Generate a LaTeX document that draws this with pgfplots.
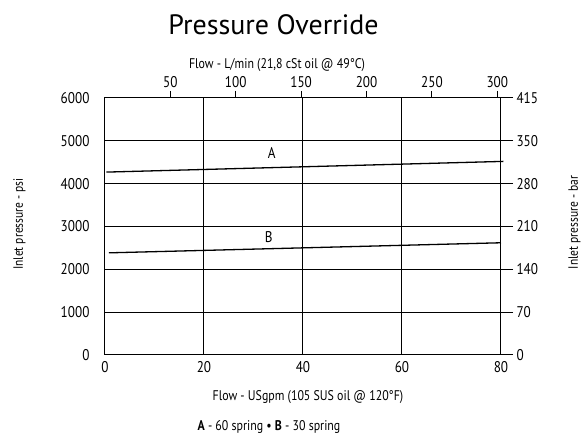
\documentclass[border=0pt]{standalone}
\usepackage{fontspec}
\setmainfont{PT Sans}[FakeStretch=0.85]
\newfontfamily\titlefont{PT Sans}
\usepackage{pgfplots}
\pgfplotsset{compat=1.18}
\begin{document}
\begin{tikzpicture}[x=1pt,y=1pt]
\useasboundingbox (-105,-80) rectangle (477,355);
% main axis (psi vs USgpm)
\begin{axis}[
  at={(0,0)}, anchor=south west,
  scale only axis, width=396pt, height=257pt,
  xmin=0, xmax=80, ymin=0, ymax=6000,
  xtick={0,20,40,60,80}, ytick={0,1000,...,6000},
  xtick pos=bottom, ytick pos=left,
  major tick length=0pt,
  grid=major, major grid style={black, line width=1pt},
  axis line style={black, line width=1pt},
  tick label style={font=\fontsize{15.5}{15.5}\selectfont},
  /pgf/number format/assume math mode=true,
  /pgf/number format/1000 sep={},
  xticklabel style={yshift=-3pt},
  yticklabel style={xshift=-12pt},
  clip=false,
]
\addplot[black, line width=1.3pt] coordinates {(0.3,4270) (80.5,4520)};
\addplot[black, line width=1.3pt] coordinates {(0.8,2385) (80,2620)};
\node[font=\fontsize{15.5}{15.5}\selectfont] at (axis cs:33.7,4716) {A};
\node[font=\fontsize{15.5}{15.5}\selectfont] at (axis cs:33.1,2750) {B};
\end{axis}
% right axis (bar)
\begin{axis}[
  at={(0,0)}, anchor=south west,
  scale only axis, width=396pt, height=257pt,
  xmin=0, xmax=80, ymin=0, ymax=6000,
  axis x line=none, axis y line*=right,
  ytick={0,1000,...,6000}, yticklabels={0,70,140,210,280,350,415},
  tick align=outside, major tick length=12pt,
  axis line style={draw=none},
  tick style={black, line width=1pt},
  tick label style={font=\fontsize{15.5}{15.5}\selectfont},
]
\end{axis}
% top axis (L/min)
\begin{axis}[
  at={(0,0)}, anchor=south west,
  scale only axis, width=396pt, height=257pt,
  xmin=0, xmax=302.833, ymin=0, ymax=6000,
  axis y line=none, axis x line*=top,
  xtick={50,100,...,300},
  tick align=outside, major tick length=7pt,
  axis line style={draw=none},
  tick style={black, line width=1pt},
  tick label style={font=\fontsize{15.5}{15.5}\selectfont},
  /pgf/number format/assume math mode=true,
]
\end{axis}
\node[anchor=base, font=\titlefont\fontsize{28}{28}\selectfont] at (168.5,320) {Pressure Override};
\node[anchor=base, font=\fontsize{14}{14}\selectfont] at (172,286.7) {Flow - L/min (21,8 cSt oil @ 49°C)};
\node[anchor=base, font=\fontsize{14}{14}\selectfont] at (203,-46) {Flow - USgpm (105 SUS oil @ 120°F)};
\node[anchor=base, font=\fontsize{14}{14}\selectfont] at (164,-75.5) {\textbf{A} - 60 spring • \textbf{B} - 30 spring};
\node[rotate=90, font=\fontsize{13.5}{13.5}\selectfont] at (469.5,132.5) {Inlet pressure - bar};
\node[rotate=90, font=\fontsize{13.5}{13.5}\selectfont] at (-85.5,131) {Inlet pressure - psi};
\end{tikzpicture}
\end{document}
